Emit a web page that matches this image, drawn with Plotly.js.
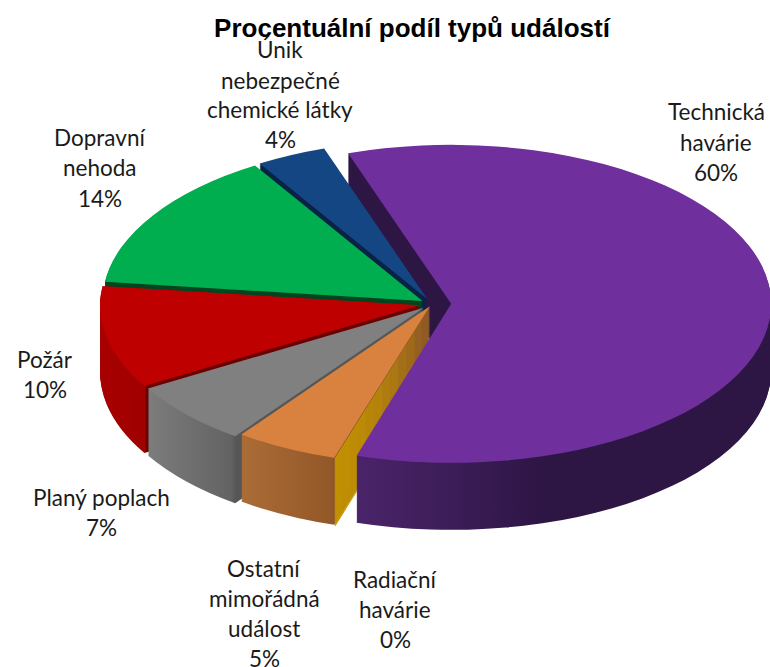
<!DOCTYPE html>
<html><head><meta charset="utf-8">
<script src="https://cdn.plot.ly/plotly-3.0.1.min.js"></script>
<style>html,body{margin:0;padding:0;background:#fff;overflow:hidden}#c{width:770px;height:667px}</style>
</head><body><div id="c"></div>
<script>
const chartTitle = "Procentuální podíl typů událostí";
const categories = ["Technická havárie","Radiační havárie","Ostatní mimořádná událost","Planý poplach","Požár","Dopravní nehoda","Únik nebezpečné chemické látky"];
const values = [60,0.05,5.2,6.5,10.4,14.3,3.55];
const labelLines = [["Technická","havárie"],["Radiační","havárie"],["Ostatní","mimořádná","událost"],["Planý poplach"],["Požár"],["Dopravní","nehoda"],["Únik","nebezpečné","chemické látky"]];

// styling and placement, separate from the data
const topColors = ["#6F309E","#C79500","#D9823F","#808080","#BE0000","#00AD4F","#134682"];
const pulls = [0.06,0.02,0.015,0.035,0.038,0.035,0.035];
const labelX = [716,395,264,102,45,100,280];
const labelY = [112,579,568,497,359,138,50];
const lineStep = 30;
const wallGrad = [
 {v:[0,1,0.6,0.65],s:[[0,"#4C256C"],[0.6,"#2D1544"],[1,"#2D1544"]]},
 {v:[0,0,1,0],s:[[0,"#C49300"],[1,"#C49300"]]},
 {v:[0,0,1,0],s:[[0,"#AB6C36"],[0.48,"#935829"],[0.5,"#8A5428"],[1,"#8A5428"]]},
 {v:[0,0,1,0],s:[[0,"#7C7C7C"],[0.3,"#636363"],[0.32,"#565656"],[1,"#565656"]]},
 {v:[0,0,1,0],s:[[0,"#A80000"],[0.14,"#A00000"],[0.145,"#6A0000"],[1,"#6A0000"]]},
 {v:[0,0,1,0],s:[[0,"#00451F"],[1,"#00451F"]]},
 {v:[0,0,1,0],s:[[0,"#0A2244"],[1,"#0A2244"]]}
];
const W=770,H=667,cx=432,cy=304,rx=320,ry=159,depth=67;
const rotation=-18.8;

const traces=[];
for(let k=depth;k>=0;k--){
  traces.push({type:"pie",labels:categories,values:values,sort:false,direction:"clockwise",rotation:rotation,
    pull:pulls,textinfo:"none",hoverinfo:"skip",showlegend:false,automargin:false,
    marker:{colors:k===0?topColors:wallGrad.map(g=>g.s[0][1]),line:{width:0}}});
}
const annotations=[];
labelLines.forEach((lines,i)=>{
  const all=lines.concat([Math.round(values[i])+"%"]);
  all.forEach((t,j)=>annotations.push({xref:"paper",yref:"paper",x:labelX[i]/W,y:1-(labelY[i]+j*lineStep)/H,
    text:t,showarrow:false,xanchor:"center",yanchor:"middle",font:{family:"Lato, Carlito, sans-serif",size:22.5,color:"#1a1a1a"}}));
});
const layout={width:W,height:H,margin:{l:0,r:0,t:0,b:0},paper_bgcolor:"#fff",showlegend:false,
  title:{text:"<b>"+chartTitle+"</b>",x:412/W,xanchor:"center",y:1-28/H,yanchor:"middle",font:{family:"Liberation Sans, Arial, sans-serif",size:26,color:"#000"}},
  annotations:annotations};
const gd=document.getElementById("c");
Plotly.newPlot(gd,traces,layout,{staticPlot:true,displayModeBar:false}).then(()=>{
  const r=Math.min(W,H)/(2*(1+Math.max(...pulls)));
  const sx=rx/r, sy=ry/r;
  const svg=gd.querySelector(".main-svg");
  const NS="http://www.w3.org/2000/svg";
  const defs=document.createElementNS(NS,"defs");
  wallGrad.forEach((g,i)=>{
    const lg=document.createElementNS(NS,"linearGradient");
    lg.setAttribute("id","wall"+i);
    ["x1","y1","x2","y2"].forEach((a,n)=>lg.setAttribute(a,g.v[n]));
    g.s.forEach(s=>{const st=document.createElementNS(NS,"stop");st.setAttribute("offset",s[0]);st.setAttribute("stop-color",s[1]);lg.appendChild(st);});
    defs.appendChild(lg);
  });
  svg.insertBefore(defs,svg.firstChild);
  const groups=gd.querySelectorAll(".pielayer .trace");
  groups.forEach((t,idx)=>{
    const k=depth-idx;
    t.setAttribute("transform","translate("+(cx-W/2*sx)+","+(cy-H/2*sy+k)+") scale("+sx+","+sy+")");
    if(k>0) t.querySelectorAll(".slice path.surface").forEach((p,i)=>{p.style.fill="url(#wall"+i+")";});
  });
});
</script></body></html>
